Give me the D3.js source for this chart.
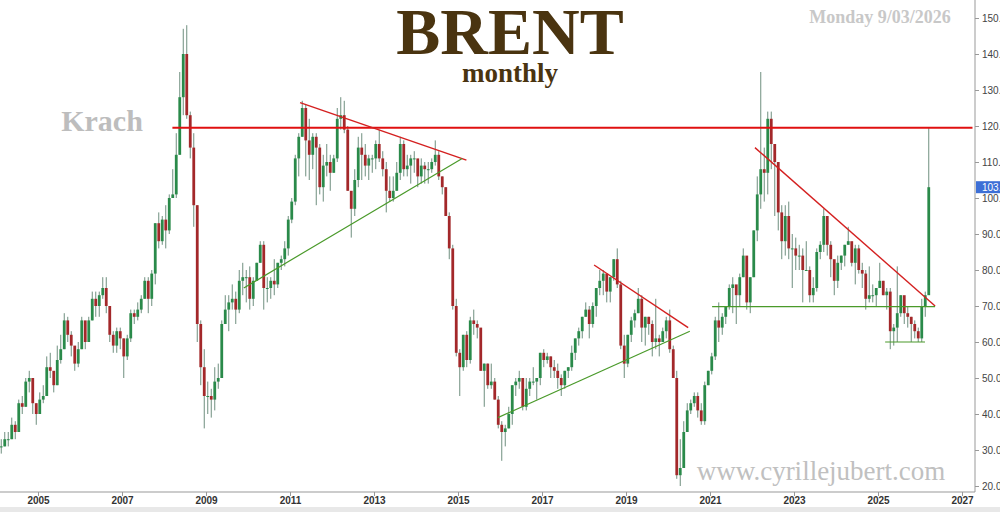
<!DOCTYPE html>
<html><head><meta charset="utf-8">
<script src="https://cdn.jsdelivr.net/npm/d3@7"></script>
<style>body{margin:0;background:#fff}svg{display:block}</style>
</head><body>
<svg id="chart" width="1000" height="512"></svg>
<script>
// Brent monthly, Jan 2004 .. Mar 2026
const startYear = 2004;
const closes = [
  31,31,33,33,37,35,43,42,49,50,43,40,
  44,45,53,52,48,55,58,66,62,59,54,58,
  66,60,66,72,70,73,75,70,62,59,63,61,
  56,61,68,67,69,72,77,72,79,93,88,94,
  91,100,101,112,128,140,123,114,98,65,53,45,
  45,44,49,50,65,69,71,72,69,77,78,78,
  72,77,82,87,75,75,77,76,82,83,86,94,
  99,111,117,125,116,112,117,114,103,109,110,107,
  111,122,123,119,102,97,105,114,112,109,111,111,
  115,111,108,102,100,102,107,115,108,109,111,111,
  106,109,108,108,110,112,106,103,95,86,70,57,
  53,62,55,66,65,64,52,54,48,49,44,37,
  35,36,40,48,49,50,42,47,49,49,50,57,
  55,56,53,52,50,48,52,53,57,61,63,67,
  69,65,70,75,77,79,74,78,83,76,59,54,
  62,66,68,72,64,67,65,60,61,60,63,66,
  58,50,23,25,35,41,43,45,41,38,48,52,
  56,66,64,67,70,75,76,73,78,84,71,78,
  91,101,108,107,122,115,110,96,88,95,86,86,
  84,84,80,80,73,75,85,87,95,87,83,77,
  82,84,87,88,82,86,80,79,72,73,73,75,
  77,73,74,63,64,68,73,68,67,65,63,61,
  70,73,103
];
const highs = [
  33,33,35,35,39,38,44,45,50,52,50,43,
  46,48,56,57,51,59,62,68,67,63,58,60,
  67,65,67,74,74,74,78,78,70,63,64,64,
  61,62,69,69,71,73,78,78,80,93,96,95,
  98,101,108,118,135,147,148,124,118,98,66,58,
  49,47,53,54,66,73,73,76,74,80,82,80,
  81,78,82,88,88,78,78,83,82,84,88,95,
  100,112,118,127,126,122,118,118,115,112,115,112,
  112,125,128,127,120,101,108,117,118,115,112,112,
  116,119,113,110,106,106,110,117,116,112,112,113,
  108,111,110,110,111,116,113,106,103,96,87,72,
  58,62,63,67,69,66,63,54,54,54,50,45,
  38,37,42,48,50,52,48,50,50,53,50,57,
  58,57,56,55,54,51,52,53,59,61,64,67,
  71,70,71,75,80,80,79,78,83,86,77,62,
  62,67,69,75,73,67,67,66,72,62,64,67,
  69,59,52,33,38,43,44,46,46,43,49,52,
  57,67,71,68,70,76,78,73,79,86,83,78,
  91,106,135,114,124,124,111,106,98,98,99,90,
  89,87,86,88,81,78,86,88,97,93,88,80,
  84,84,87,92,84,87,87,82,80,81,76,75,
  82,77,75,75,65,81,73,70,70,67,66,64,
  72,74,119.5
];
const lows = [
  29,29,31,31,33,33,35,40,42,46,40,37,
  40,43,45,50,46,48,54,58,60,56,52,53,
  58,58,60,66,67,67,72,68,60,57,57,58,
  50,55,60,65,66,68,72,68,70,76,86,87,
  86,90,100,100,112,123,122,111,92,60,48,36,
  40,39,41,47,50,65,63,69,65,68,73,71,
  69,70,77,82,69,71,72,73,75,80,81,84,
  93,98,106,117,106,105,108,98,101,99,106,102,
  107,110,119,118,102,89,95,103,105,106,105,107,
  108,110,106,96,99,99,102,105,106,106,104,107,
  103,104,104,104,107,109,105,101,96,83,69,56,
  45,52,53,54,62,61,52,42,47,47,44,36,
  27,31,36,37,45,47,41,41,45,48,44,48,
  53,54,50,50,47,45,47,50,52,55,59,61,
  67,61,64,67,73,73,71,71,77,75,58,50,
  53,60,64,68,60,59,62,56,58,56,60,61,
  57,50,22,20,26,35,40,42,39,37,37,48,
  51,55,60,62,65,69,68,65,70,78,69,68,
  78,88,97,99,101,108,95,91,83,84,83,75,
  80,80,71,80,71,71,74,83,85,84,78,73,
  75,80,81,87,81,76,79,75,69,71,71,70,
  76,73,69,58,59,60,67,65,64,60,61,60,
  60,67,76
];
const firstOpen = 30;
const yearTicks = [2005,2007,2009,2011,2013,2015,2017,2019,2021,2023,2025,2027];
const priceTicks = [20,30,40,50,60,70,80,90,100,110,120,130,140,150];
// trend lines: [yearFrom, priceFrom, yearTo, priceTo, color, width]
const trendLines = [
  [2008.2, 119.5, 2027.25, 119.5, "#e01010", 2],
  [2011.24, 126.5, 2015.2, 110.5, "#d42020", 1.4],
  [2009.9, 75, 2015.1, 111, "#4a9a2a", 1.2],
  [2015.95, 39, 2020.52, 63, "#4a9a2a", 1.2],
  [2018.24, 81.4, 2020.48, 64, "#d42020", 1.4],
  [2022.07, 114, 2026.36, 70, "#d42020", 1.4],
  [2021.05, 69.8, 2026.36, 69.8, "#4a9a2a", 1.2],
  [2025.17, 60, 2026.12, 60, "#4a9a2a", 1.2]
];

const candles = closes.map((c, i) => ({
  t: startYear + (i + 0.5) / 12,
  o: i === 0 ? firstOpen : closes[i - 1],
  c: c, h: highs[i], l: lows[i]
}));

const svg = d3.select("#chart");
const x = d3.scaleLinear().domain([2005, 2027]).range([38, 962]);
const y = d3.scaleLinear().domain([20, 120]).range([486, 126]);
const plotRight = 975, plotBottom = 492;

svg.append("defs").append("clipPath").attr("id", "clip")
  .append("rect").attr("x", 0).attr("y", 0).attr("width", plotRight).attr("height", plotBottom);

const plot = svg.append("g").attr("clip-path", "url(#clip)");

// candles
plot.selectAll(".wick").data(candles).enter().append("line")
  .attr("x1", d => x(d.t)).attr("x2", d => x(d.t))
  .attr("y1", d => y(d.h)).attr("y2", d => y(d.l))
  .attr("stroke", "#6f8f7f").attr("stroke-width", 1);
plot.selectAll(".body").data(candles).enter().append("rect")
  .attr("x", d => x(d.t) - 1.4).attr("width", 2.8)
  .attr("y", d => y(Math.max(d.o, d.c)))
  .attr("height", d => Math.max(1, Math.abs(y(d.o) - y(d.c))))
  .attr("fill", d => d.c >= d.o ? "#2a8a4a" : "#a3282a");

// trend lines
plot.selectAll(".trend").data(trendLines).enter().append("line")
  .attr("x1", d => x(d[0])).attr("y1", d => y(d[1]))
  .attr("x2", d => x(d[2])).attr("y2", d => y(d[3]))
  .attr("stroke", d => d[4]).attr("stroke-width", d => d[5]);

// axes
svg.append("g").attr("transform", `translate(${plotRight},0)`)
  .call(d3.axisRight(y).tickValues(priceTicks).tickSize(4).tickFormat(d3.format(".1f")))
  .call(g => g.select(".domain").attr("d", `M0,0V${plotBottom}`).attr("stroke", "#999"))
  .call(g => g.selectAll(".tick line").attr("stroke", "#999"))
  .call(g => g.selectAll("text").attr("fill", "#444").attr("font-size", 10)
    .attr("font-family", "Liberation Sans, Arial, sans-serif"));

svg.append("g").attr("transform", `translate(0,${plotBottom})`)
  .call(d3.axisBottom(x).tickValues(yearTicks).tickSize(4).tickFormat(d3.format("d")))
  .call(g => g.select(".domain").attr("d", `M0,0H${plotRight}`).attr("stroke", "#999"))
  .call(g => g.selectAll(".tick line").attr("stroke", "#999"))
  .call(g => g.selectAll("text").attr("fill", "#333").attr("font-size", 10)
    .attr("font-weight", "bold").attr("dy", "0.5em")
    .attr("font-family", "Liberation Sans, Arial, sans-serif"));

svg.append("rect").attr("x", 0).attr("y", 507).attr("width", 1000).attr("height", 5).attr("fill", "#e8e8e8");

// last price tag
const last = closes[closes.length - 1];
svg.append("rect").attr("x", plotRight + 1).attr("y", y(last) - 6).attr("width", 30).attr("height", 12).attr("fill", "#3d6fd6");
svg.append("text").attr("x", plotRight + 7).attr("y", y(last) + 4).text(last.toFixed(1))
  .attr("fill", "#fff").attr("font-size", 10).attr("font-family", "Liberation Sans, Arial, sans-serif");

// texts
const serif = "Liberation Serif, Times New Roman, serif";
svg.append("text").attr("x", 510).attr("y", 54).attr("text-anchor", "middle").text("BRENT")
  .attr("font-family", serif).attr("font-size", 66).attr("font-weight", "bold").attr("fill", "#4a3410");
svg.append("text").attr("x", 510).attr("y", 82).attr("text-anchor", "middle").text("monthly")
  .attr("font-family", serif).attr("font-size", 27).attr("font-weight", "bold").attr("fill", "#4a3410");
svg.append("text").attr("x", 880).attr("y", 23).attr("text-anchor", "middle").text("Monday 9/03/2026")
  .attr("font-family", serif).attr("font-size", 18).attr("font-weight", "bold").attr("fill", "#c8c8c8");
svg.append("text").attr("x", 102).attr("y", 131).attr("text-anchor", "middle").text("Krach")
  .attr("font-family", serif).attr("font-size", 30).attr("font-weight", "bold").attr("fill", "#bdbdbd");
svg.append("text").attr("x", 821).attr("y", 480).attr("text-anchor", "middle").text("www.cyrillejubert.com")
  .attr("font-family", serif).attr("font-size", 27).attr("fill", "#c0c0c0");
</script>
</body></html>
